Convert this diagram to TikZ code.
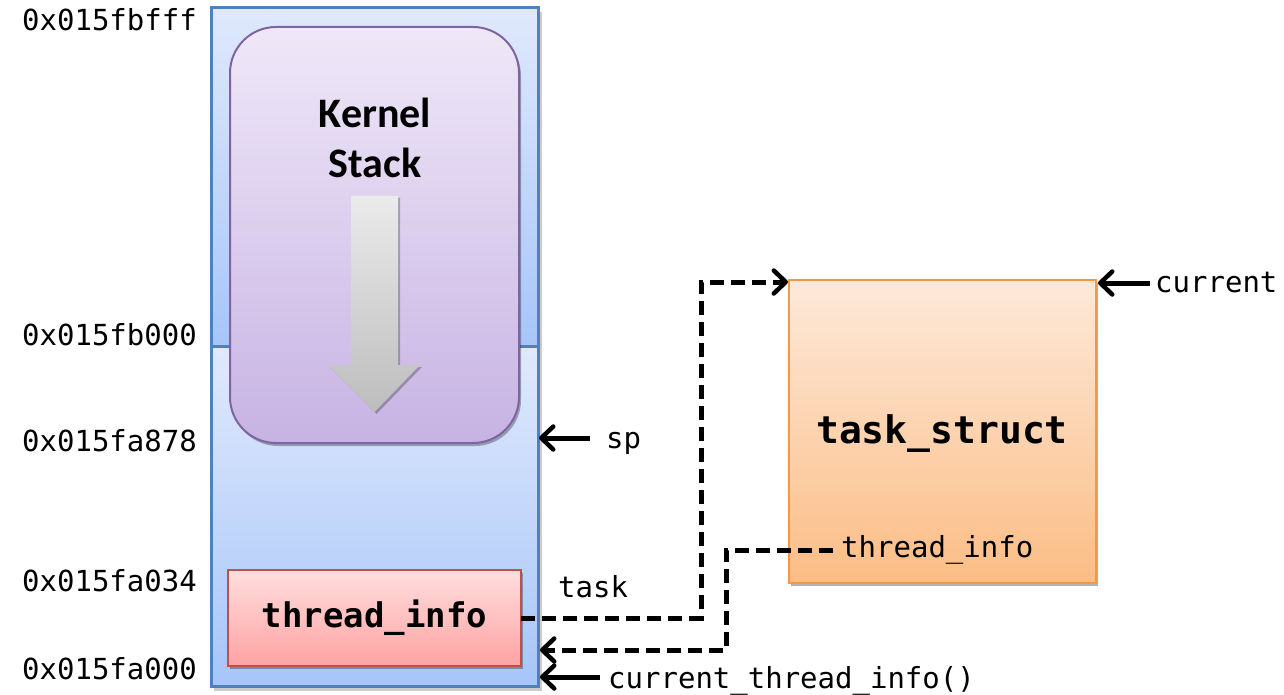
\documentclass[tikz,border=0pt]{standalone}
\usepackage{fontspec}
\newfontfamily\monof{DejaVu Sans Mono}
\newfontfamily\calib{Carlito}
\usetikzlibrary{arrows.meta,shadows}
\definecolor{bluetop}{HTML}{E0E9FC}
\definecolor{bluebot}{HTML}{A7C5F9}
\definecolor{blueline}{HTML}{4F81BD}
\definecolor{purtop}{HTML}{EFE8F8}
\definecolor{purbot}{HTML}{C7B3E3}
\definecolor{purline}{HTML}{8064A2}
\definecolor{redtop}{HTML}{FFDEDE}
\definecolor{redbot}{HTML}{FFA2A2}
\definecolor{redline}{HTML}{C0504D}
\definecolor{orgtop}{HTML}{FDE9DA}
\definecolor{orgbot}{HTML}{FBBD85}
\definecolor{orgline}{HTML}{F79646}
\tikzset{
  addr/.style={anchor=base east,inner sep=0pt,font=\monof\fontsize{29}{30}\selectfont},
  lbl/.style={anchor=base west,inner sep=0pt,font=\monof\fontsize{29}{30}\selectfont},
  tiphead/.style={-{Straight Barb[length=12pt,width=23pt,line width=4.5pt,round]}},
  solidarrow/.style={line width=5pt,tiphead},
  dasharrow/.style={line width=5pt,dash pattern=on 14pt off 7pt,tiphead},
  boxshadow/.style={drop shadow={shadow xshift=2pt,shadow yshift=-3pt,opacity=0.3,fill=black}},
}
\begin{document}
\begin{tikzpicture}[x=1pt,y=-1pt]
\useasboundingbox (0,0) rectangle (1284,695);
% main stack box
\fill[black,opacity=0.2] (214,12) rectangle (542,691);
\node[inner sep=0pt,minimum width=327pt,minimum height=338pt,top color=bluetop,bottom color=bluebot] (stackup) at (374.5,177) {};
\node[inner sep=0pt,minimum width=327pt,minimum height=340pt,top color=bluetop,bottom color=bluebot] (stacklow) at (374.5,516) {};
\node[draw=blueline,line width=3pt,inner sep=0pt,minimum width=327pt,minimum height=678pt] (stack) at (374.5,347) {};
\draw[blueline,line width=3pt] (stackup.south west) -- (stackup.south east);
% kernel stack
\node[draw=purline,line width=2pt,rounded corners=46pt,inner sep=0pt,minimum width=289pt,minimum height=416pt,top color=purtop,bottom color=purbot,boxshadow] (kstack) at (374.5,235) {};
\node[font=\calib\bfseries\fontsize{42}{50}\selectfont,align=center,inner sep=0pt] (ktext) at (375,138) {Kernel\\Stack};
\path[top color=black!8,bottom color=black!26,drop shadow={shadow xshift=2pt,shadow yshift=-2pt,opacity=0.25,fill=black}]
  (351,196) -- (398,196) -- (398,365) -- (420,365) -- (374.5,412) -- (328,365) -- (351,365) -- cycle;
% thread_info
\node[draw=redline,line width=1.5pt,inner sep=0pt,minimum width=293pt,minimum height=96pt,top color=redtop,bottom color=redbot,boxshadow,font=\monof\bfseries\fontsize{34}{40}\selectfont] (ti) at (374.5,618) {thread\_info};
% task_struct
\node[draw=orgline,line width=1.5pt,inner sep=0pt,minimum width=307pt,minimum height=303pt,top color=orgtop,bottom color=orgbot,boxshadow] (ts) at (942.5,431.5) {};
\node[font=\monof\bfseries\fontsize{38}{40}\selectfont,inner sep=0pt] (tstext) at (942,434) {task\_struct};
% address labels
\node[addr] (a1) at (197,31) {0x015fbfff};
\node[addr] (a2) at (197,345) {0x015fb000};
\node[addr] (a3) at (197,451) {0x015fa878};
\node[addr] (a4) at (197,591) {0x015fa034};
\node[addr] (a5) at (197,679) {0x015fa000};
% right labels
\node[lbl] (sp) at (606,448) {sp};
\node[lbl] (cur) at (1155,292) {current};
\node[lbl] (task) at (558,597) {task};
\node[lbl] (cti) at (608,688) {current\_thread\_info()};
\node[lbl] (tsti) at (841,557) {thread\_info};
% solid arrows
\coordinate (spS) at (590,438);
\coordinate (spE) at (539,438);
\coordinate (curS) at (1150,283);
\coordinate (curE) at (1098,283);
\coordinate (ctiS) at (600,677);
\coordinate (ctiE) at (540,677);
\draw[solidarrow] (spS) -- (spE);
\draw[solidarrow] (curS) -- (curE);
\draw[solidarrow] (ctiS) -- (ctiE);
% dashed connectors
\coordinate (tiE) at (521,618);
\coordinate (tsW) at (788,282);
\draw[dasharrow] (tiE) -- (701,618) -- (701,282) -- (tsW);
\coordinate (tsP) at (833,550);
\coordinate (stE) at (540,650);
\draw[dasharrow] (tsP) -- (726,550) -- (726,650) -- (stE);
\end{tikzpicture}
\end{document}
